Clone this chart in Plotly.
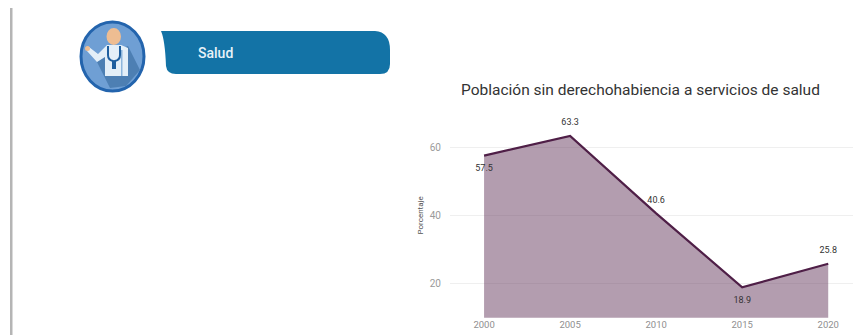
import plotly.graph_objects as go

W, H = 853, 335
years = [2000, 2005, 2010, 2015, 2020]
values = [57.5, 63.3, 40.6, 18.9, 25.8]
label_pos = ["bottom center", "top center", "top center", "bottom center", "top center"]
y_ticks = [20, 40, 60]
title_text = "Población sin derechohabiencia a servicios de salud"
banner_text = "Salud"
axis_title = "Porcentaje"

def px(x):
    return x / W
def py(y):
    return 1 - y / H

def P(cmds):
    out = []
    for c in cmds:
        if isinstance(c, str):
            out.append(c)
        else:
            out.append(f"{px(c[0]):.5f},{py(c[1]):.5f}")
    return " ".join(out)

shapes = [
    # left rule
    dict(type="rect", xref="paper", yref="paper", x0=px(10), x1=px(12.5), y0=py(335), y1=py(8),
         fillcolor="#b5b5b5", line_width=0),
    # icon disc
    dict(type="circle", xref="paper", yref="paper", x0=px(81), x1=px(144), y0=py(91), y1=py(22),
         fillcolor="#6f9fd4", line=dict(color="#2364ad", width=3)),
    # shade
    dict(type="path", xref="paper", yref="paper",
         path=P(["M", (97, 62), "L", (108, 54), "L", (128, 46), "L", (140, 70), "L", (126, 86), "L", (110, 88), "Z"]),
         fillcolor="#4d7fb3", line_width=0),
    # head
    dict(type="circle", xref="paper", yref="paper", x0=px(106.5), x1=px(121), y0=py(45), y1=py(28),
         fillcolor="#eebd92", line_width=0),
    # coat
    dict(type="path", xref="paper", yref="paper",
         path=P(["M", (105, 76), "L", (128, 76), "L", (128, 48), "L", (121, 45), "L", (107, 45),
                 "L", (98, 54), "L", (89, 47), "L", (87, 51), "L", (97, 62), "L", (105, 57), "Z"]),
         fillcolor="#e4eff8", line_width=0),
    # hand
    dict(type="circle", xref="paper", yref="paper", x0=px(85), x1=px(90), y0=py(51), y1=py(46),
         fillcolor="#eebd92", line_width=0),
    # coat split
    dict(type="rect", xref="paper", yref="paper", x0=px(121), x1=px(122.5), y0=py(76), y1=py(50),
         fillcolor="#8db6dc", line_width=0),
    # stethoscope
    dict(type="path", xref="paper", yref="paper",
         path=P(["M", (108, 46), "L", (108, 55), "Q", (108, 60), (113, 61), "L", (113, 68),
                 "L", (115, 68), "L", (115, 61), "Q", (120, 60), (120, 55), "L", (120, 46)]),
         line=dict(color="#1f5f9f", width=2)),
    # banner
    dict(type="path", xref="paper", yref="paper",
         path=P(["M", (161, 31), "L", (375, 31), "Q", (390, 32), (390, 50), "L", (390, 64),
                 "Q", (390, 74), (380, 74), "L", (176, 74), "Q", (167, 74), (166, 66),
                 "Q", (165, 40), (161, 31), "Z"]),
         fillcolor="#1373a6", line_width=0),
]

fig = go.Figure()
fig.add_trace(go.Scatter(
    x=years, y=values, mode="lines+markers+text", text=[f"{v:.1f}" for v in values],
    textposition=label_pos, textfont=dict(family="Roboto", size=9, color="#333333"),
    marker=dict(size=12, opacity=0),
    line=dict(color="#4f1f47", width=2.2), fill="tozeroy",
    fillcolor="rgba(112,70,104,0.53)", cliponaxis=False, hoverinfo="skip", showlegend=False,
))

fig.update_layout(
    width=W, height=H, margin=dict(l=0, r=0, t=0, b=0), autosize=False,
    paper_bgcolor="white", plot_bgcolor="white", shapes=shapes,
    xaxis=dict(domain=[450 / W, 1], range=[1998.02, 2021.44], tickmode="array", tickvals=years,
               showgrid=False, zeroline=False, showline=False, ticks="",
               tickfont=dict(family="Roboto", size=9.5, color="#8f8f8f")),
    yaxis=dict(domain=[17.3 / H, 222 / H], range=[10, 70], tickmode="array", tickvals=y_ticks,
               showgrid=True, gridcolor="#efefef", gridwidth=1, zeroline=False, showline=False, ticks="",
               ticklabelstandoff=8, tickfont=dict(family="Roboto", size=10, color="#9a9a9a"),
               title=dict(text=axis_title, font=dict(family="Roboto", size=8, color="#555555"), standoff=4)),
    annotations=[
        dict(text=title_text, xref="paper", yref="paper", x=px(640), y=py(90), xanchor="center",
             yanchor="middle", showarrow=False,
             font=dict(family="Roboto", size=15.5, color="#333333")),
        dict(text=banner_text, xref="paper", yref="paper", x=px(216), y=py(53), xanchor="center",
             yanchor="middle", showarrow=False,
             font=dict(family="Roboto", size=14, weight=500, color="#e8f2f8")),
    ],
)
fig.write_html("out.html", config=dict(displayModeBar=False),
               post_script="document.body.style.margin='0';document.documentElement.style.overflow='hidden';")
